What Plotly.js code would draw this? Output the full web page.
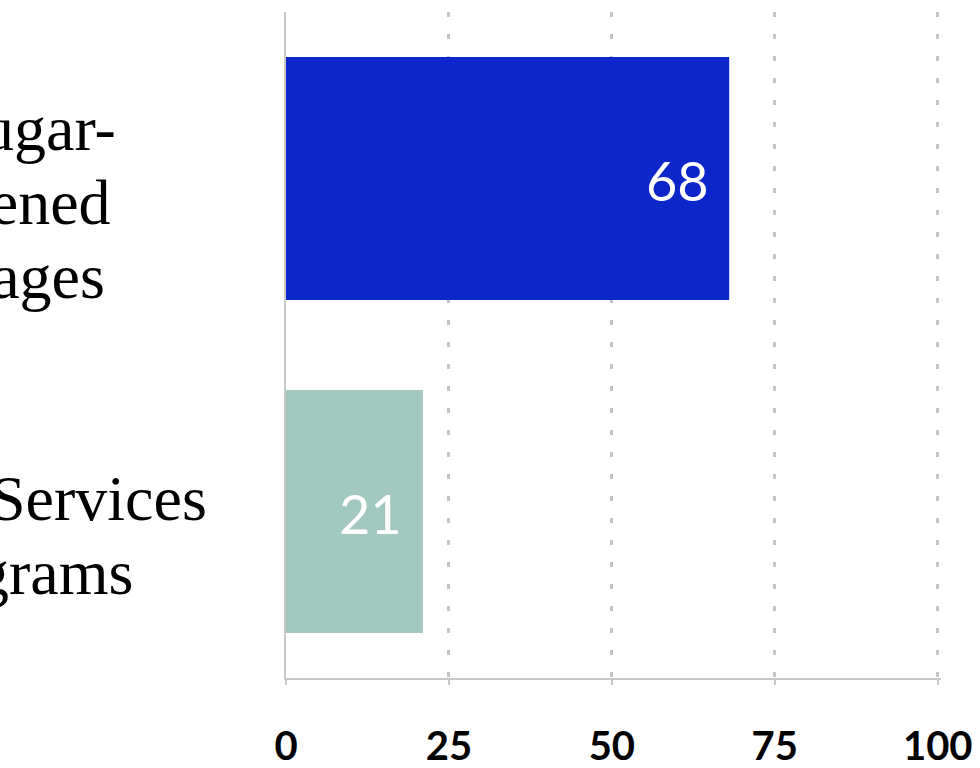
<!DOCTYPE html>
<html>
<head>
<meta charset="utf-8">
<script src="https://cdn.plot.ly/plotly-3.0.1.min.js"></script>
<style>html,body{margin:0;padding:0;background:#fff;}#chart{width:980px;height:768px;}</style>
</head>
<body>
<div id="chart"></div>
<script>
// Data
const labelLines = [
  ['Cut Sugar-', 'sweetened', 'beverages'],
  ['Social Services', 'Programs']
];
const categories = labelLines.map(l => l.join(' '));
const values = [68, 21];
const barColors = ['#0c26c9', '#a2c8c0'];
const tickVals = [0, 25, 50, 75, 100];
const tickText = ['0', '25', '50', '75', '100'];

// label block horizontal centres (shift from plot left edge, px)
const labelCenterShift = [-309, -276];
const lineStep = 74;
const blockOffset = -24;

const annotations = [];
labelLines.forEach((lines, i) => {
  const n = lines.length;
  lines.forEach((ln, j) => {
    annotations.push({
      xref: 'paper', x: 0, xanchor: 'center', xshift: labelCenterShift[i],
      yref: 'y', y: categories[i], yanchor: 'middle',
      yshift: ((n - 1) / 2 - j) * lineStep + blockOffset,
      text: ln, showarrow: false,
      font: {family: 'Liberation Serif', size: 64, color: '#000'}
    });
  });
});
values.forEach((v, i) => {
  annotations.push({
    xref: 'x', x: v, yref: 'y', y: categories[i],
    xanchor: 'center', yanchor: 'middle', xshift: -52, yshift: -2,
    text: String(v), showarrow: false,
    font: {family: 'Lato', size: 54, color: '#ffffff'}
  });
});

const trace = {
  type: 'bar', orientation: 'h',
  x: values, y: categories,
  marker: {color: barColors, line: {width: 0}},
  hoverinfo: 'none'
};

const layout = {
  width: 980, height: 768,
  margin: {l: 286, r: 39, t: 12, b: 90, pad: 0},
  paper_bgcolor: '#ffffff', plot_bgcolor: '#ffffff',
  showlegend: false,
  bargap: 0.27,
  xaxis: {
    range: [0, 100.5], tickmode: 'array', tickvals: tickVals, ticktext: tickText,
    ticks: 'outside', ticklen: 5, tickwidth: 2, tickcolor: '#c8c8c8',
    showline: true, linecolor: '#c8c8c8', linewidth: 2,
    showgrid: true, gridcolor: '#c4c4c4', gridwidth: 3, griddash: '5px,17px',
    zeroline: false,
    ticklabelstandoff: 27,
    tickfont: {family: 'Lato', size: 40, color: '#000', weight: 700}
  },
  yaxis: {
    type: 'category', categoryorder: 'array', categoryarray: categories,
    range: [1.5, -0.5],
    showline: true, linecolor: '#c8c8c8', linewidth: 2,
    showticklabels: false, ticks: '', showgrid: false, zeroline: false
  },
  annotations: annotations
};

Plotly.newPlot('chart', [trace], layout, {displayModeBar: false, staticPlot: true});
</script>
</body>
</html>
